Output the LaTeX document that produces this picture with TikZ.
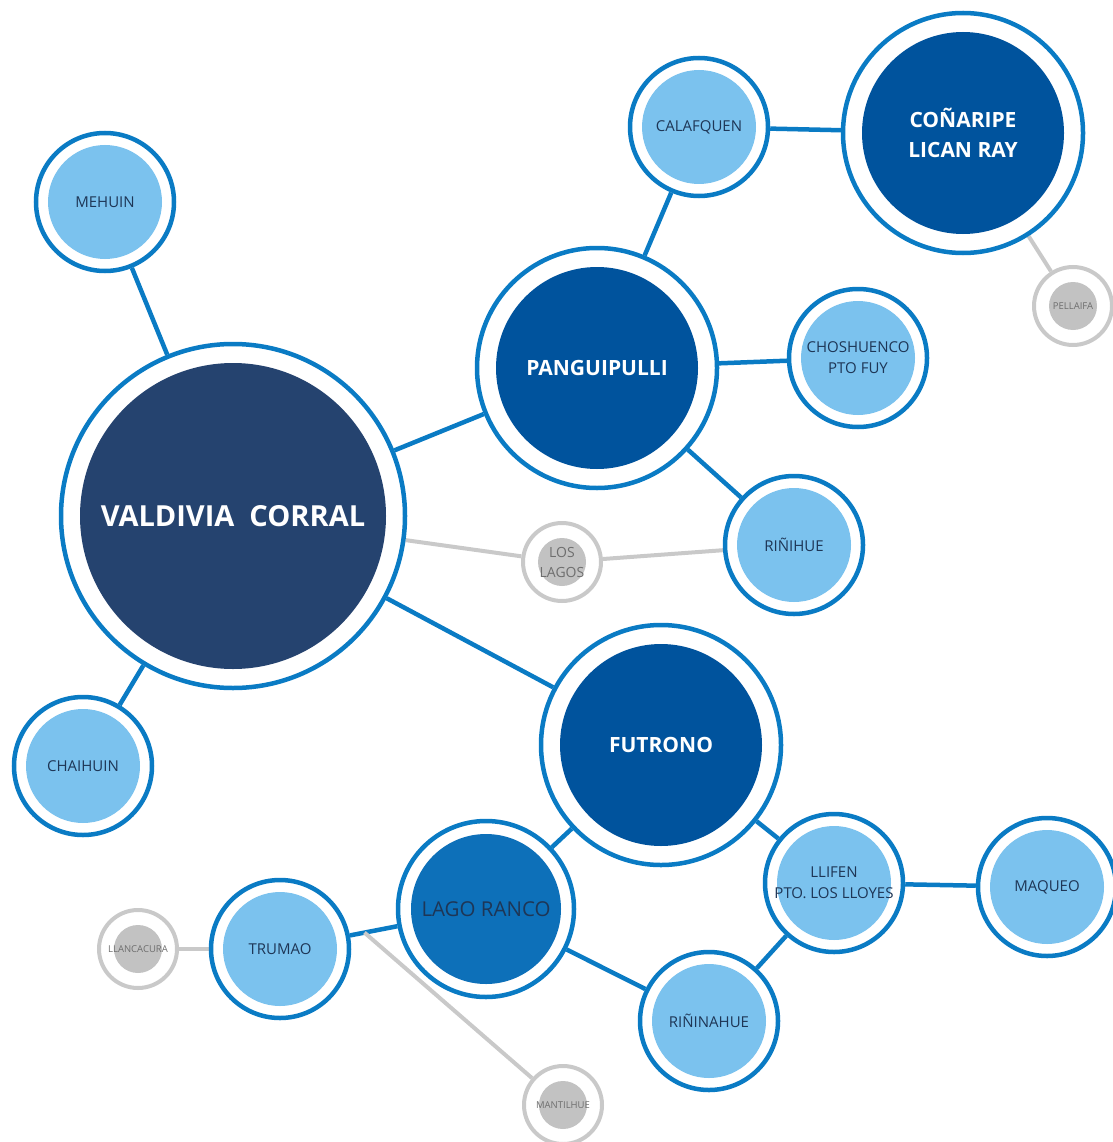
\documentclass[tikz,border=0pt]{standalone}
\usepackage{fontspec}
\setmainfont{Open Sans}
\usetikzlibrary{backgrounds,calc}
\definecolor{ringblue}{HTML}{0A7BC4}
\definecolor{navyfill}{HTML}{25436F}
\definecolor{deepfill}{HTML}{00539D}
\definecolor{lakefill}{HTML}{0D70B9}
\definecolor{skyfill}{HTML}{7BC2EE}
\definecolor{greyring}{HTML}{C9C9C9}
\definecolor{greyfill}{HTML}{C2C2C2}
\definecolor{labelnavy}{HTML}{1E3656}
\definecolor{labelgrey}{HTML}{6E6E6E}
\tikzstyle{bubble} = [circle, draw=ringblue, line width=4.5pt, fill=white,
    inner sep=0pt, align=center]
\tikzstyle{hub} = [bubble, minimum size=344pt, text=white,
    font=\fontsize{29}{35}\selectfont\bfseries,
    path picture={\fill[navyfill] (path picture bounding box.center) circle (153pt);}]
\tikzstyle{town} = [bubble, minimum size=240pt, text=white,
    font=\fontsize{21}{30}\selectfont\bfseries,
    path picture={\fill[deepfill] (path picture bounding box.center) circle (101pt);}]
\tikzstyle{lake} = [bubble, minimum size=176pt, text=labelnavy,
    font=\fontsize{20.5}{24}\selectfont,
    path picture={\fill[lakefill] (path picture bounding box.center) circle (75pt);}]
\tikzstyle{village} = [bubble, minimum size=138pt, text=labelnavy,
    font=\fontsize{15}{21}\selectfont,
    path picture={\fill[skyfill] (path picture bounding box.center) circle (57pt);}]
\tikzstyle{spot} = [circle, draw=greyring, line width=4pt, fill=white,
    inner sep=0pt, align=center, minimum size=78pt, text=labelgrey,
    font=\fontsize{9.5}{11}\selectfont,
    path picture={\fill[greyfill] (path picture bounding box.center) circle (24pt);}]
\tikzstyle{link} = [draw=ringblue, line width=4.5pt]
\tikzstyle{faint} = [draw=greyring, line width=4pt]

\begin{document}
\begin{tikzpicture}[x=1pt, y=-1pt]
    \useasboundingbox (0,0) rectangle (1112,1142);
    % Place nodes
    \node [hub] (valdivia) at (233,516) {VALDIVIA\ \ CORRAL};
    \node [town] (panguipulli) at (597,368) {PANGUIPULLI};
    \node [town] (conaripe) at (963,133) {COÑARIPE\\LICAN RAY};
    \node [town] (futrono) at (661,745) {FUTRONO};
    \node [lake] (lagoranco) at (486,909) {LAGO RANCO};
    \node [village] (mehuin) at (105,202) {MEHUIN};
    \node [village] (calafquen) at (699,127) {CALAFQUEN};
    \node [village] (choshuenco) at (858,358) {CHOSHUENCO\\PTO FUY};
    \node [village] (rinihue) at (794,545) {RIÑIHUE};
    \node [village] (chaihuin) at (83,766) {CHAIHUIN};
    \node [village] (llifen) at (834,883) {LLIFEN\\PTO. LOS LLOYES};
    \node [village] (maqueo) at (1047,887) {MAQUEO};
    \node [village] (rininahue) at (709,1021) {RIÑINAHUE};
    \node [village] (trumao) at (280,949) {TRUMAO};
    \node [spot] (pellaifa) at (1073,306) {PELLAIFA};
    \node [spot, font=\fontsize{14}{20}\selectfont] (loslagos) at (562,562) {LOS\\LAGOS};
    \node [spot] (llancacura) at (138,949) {LLANCACURA};
    \node [spot] (mantilhue) at (563,1105) {MANTILHUE};
    \coordinate (fork) at ($(trumao)!0.41!(lagoranco)$);
    % Draw edges
    \begin{scope}[on background layer]
    \path [link] (valdivia) -- (mehuin);
    \path [link] (valdivia) -- (chaihuin);
    \path [link] (valdivia) -- (panguipulli);
    \path [link] (valdivia) -- (futrono);
    \path [faint] (valdivia) -- (loslagos);
    \path [faint] (loslagos) -- (rinihue);
    \path [link] (panguipulli) -- (calafquen);
    \path [link] (panguipulli) -- (choshuenco);
    \path [link] (panguipulli) -- (rinihue);
    \path [link] (calafquen) -- (conaripe);
    \path [faint] (conaripe) -- (pellaifa);
    \path [link] (futrono) -- (lagoranco);
    \path [link] (futrono) -- (llifen);
    \path [link] (llifen) -- (maqueo);
    \path [link] (llifen) -- (rininahue);
    \path [link] (lagoranco) -- (rininahue);
    \path [link] (lagoranco) -- (trumao);
    \path [faint] (trumao) -- (llancacura);
    \path [faint] (fork) -- (mantilhue);
    \end{scope}
\end{tikzpicture}
\end{document}
